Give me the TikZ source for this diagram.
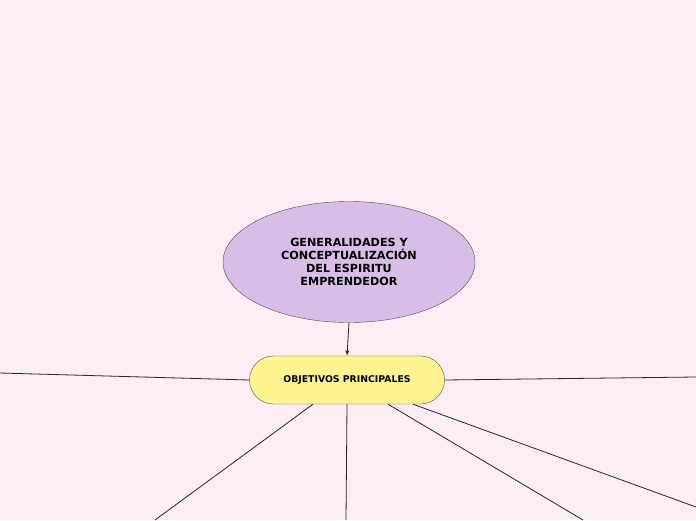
\documentclass[tikz,border=0pt]{standalone}
\usepackage{fontspec}
\setmainfont{DejaVu Sans}
\usepackage{tikz}
\usetikzlibrary{arrows}
\usetikzlibrary{shapes.geometric, shapes.misc}
\definecolor{bgpink}{HTML}{FCEEF4}
\definecolor{lavender}{HTML}{D8BDE6}
\definecolor{lemon}{HTML}{FFF490}
\tikzstyle{topic}=[ellipse, draw=black!70, fill=lavender, minimum width=252pt, minimum height=121pt, inner sep=0pt, align=center, font=\fontsize{11.2}{13}\selectfont\bfseries]
\tikzstyle{subtopic}=[rounded rectangle, draw=black!70, fill=lemon, minimum width=195pt, minimum height=48pt, inner sep=0pt, font=\fontsize{9.3}{10}\selectfont\bfseries]
\tikzstyle{branch}=[draw=black!85, line width=.8pt]

\begin{document}
\begin{tikzpicture}[x=1pt, y=-1pt]
      \fill[bgpink] (0,0) rectangle (696,520);
      \useasboundingbox (0,0) rectangle (696,520);

      \node[topic] (gen) at (349,262) {GENERALIDADES Y\\CONCEPTUALIZACIÓN\\DEL ESPIRITU\\ EMPRENDEDOR};
      \node[subtopic] (obj) at (347,380) {OBJETIVOS PRINCIPALES};

      \draw[branch, -latex] (gen.south) -- (obj.north);

      % free ends at the border
      \coordinate (w) at (0,373);
      \coordinate (e) at (696,377);
      \coordinate (s1) at (155,520);
      \coordinate (s2) at (346,520);
      \coordinate (s3) at (583,520);
      \coordinate (s4) at (696,507);

      \draw[branch] (obj.west) -- (w);
      \draw[branch] (obj.east) -- (e);
      \draw[branch] (obj.south) ++(-34,0) coordinate (o1) (o1) -- (s1);
      \draw[branch] (obj.south) -- (s2);
      \draw[branch] (obj.south) ++(41,0) coordinate (o3) (o3) -- (s3);
      \draw[branch] (obj.south) ++(66,0) coordinate (o4) (o4) -- (s4);
    \end{tikzpicture}
\end{document}
